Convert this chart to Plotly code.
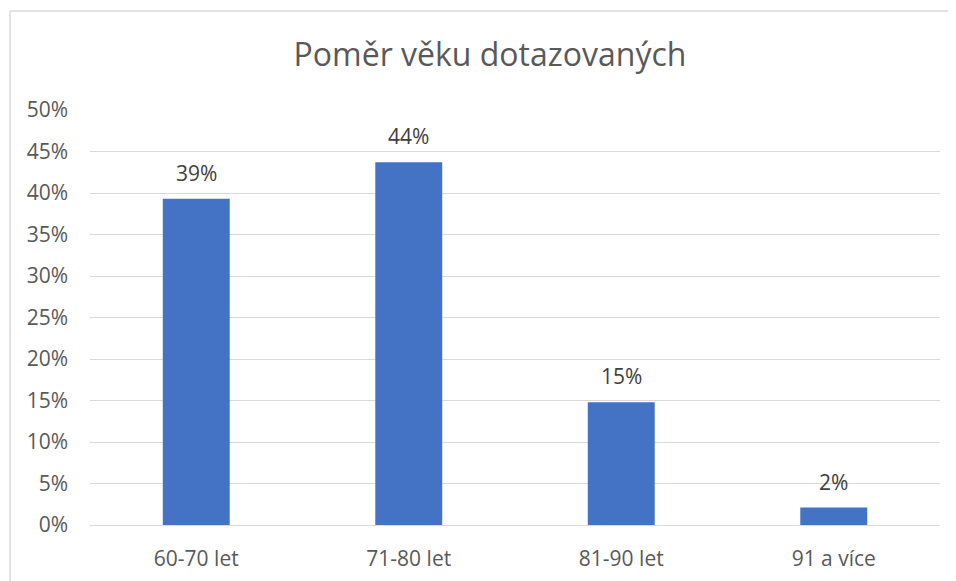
import plotly.graph_objects as go

categories = ["60-70 let", "71-80 let", "81-90 let", "91 a více"]
values = [0.393, 0.437, 0.148, 0.021]
title_text = "Poměr věku dotazovaných"
tick_vals = [0, 0.05, 0.10, 0.15, 0.20, 0.25, 0.30, 0.35, 0.40, 0.45, 0.50]

FONT = "Open Sans"
GREY = "#595959"
H = 573

fig = go.Figure(
    go.Bar(
        x=categories,
        y=values,
        marker=dict(color="#4472C4", line=dict(width=0)),
        width=0.315,
        hoverinfo="x+y",
    )
)

for c, v in zip(categories, values):
    fig.add_annotation(
        x=c,
        y=v,
        xref="x",
        yref="y",
        text=f"{v:.0%}",
        showarrow=False,
        yanchor="bottom",
        yshift=10,
        font=dict(family=FONT, size=21, color="#404040"),
    )

fig.update_layout(
    width=948,
    height=H,
    margin=dict(l=82, r=16, t=102, b=56),
    paper_bgcolor="white",
    plot_bgcolor="white",
    showlegend=False,
    font=dict(family=FONT, color=GREY),
    title=dict(
        text=title_text,
        x=0.4706,
        xref="paper",
        xanchor="center",
        y=1 - 47 / H,
        yref="container",
        yanchor="middle",
        font=dict(family=FONT, size=32, color=GREY),
    ),
    xaxis=dict(
        showgrid=False,
        showline=False,
        zeroline=False,
        automargin=False,
        tickfont=dict(family=FONT, size=21, color=GREY),
        ticklabelstandoff=19,
    ),
    yaxis=dict(
        range=[0, 0.5],
        tickvals=tick_vals,
        tickformat=".0%",
        automargin=False,
        showgrid=True,
        gridcolor="#D9D9D9",
        gridwidth=1,
        zeroline=True,
        zerolinecolor="#D9D9D9",
        zerolinewidth=1,
        showline=False,
        tickfont=dict(family=FONT, size=21, color=GREY),
        ticklabelstandoff=21,
    ),
    bargap=0.685,
)

# chart-area border (only the left and top edges are visible in the reference)
border_x = -80 / 850
border_top = (415 + 99) / 415
fig.add_shape(
    type="line", xref="paper", yref="paper",
    x0=border_x, x1=border_x, y0=-0.5, y1=border_top,
    line=dict(color="#D9D9D9", width=1.5), layer="below",
)
fig.add_shape(
    type="line", xref="paper", yref="paper",
    x0=border_x, x1=1.3, y0=border_top, y1=border_top,
    line=dict(color="#D9D9D9", width=1.5), layer="below",
)

fig.write_html("out.html")
